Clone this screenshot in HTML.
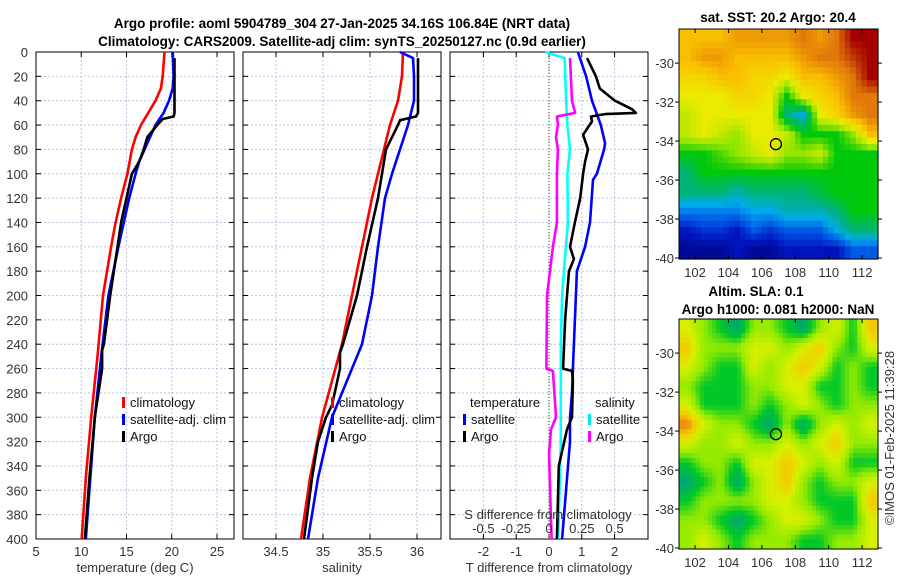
<!DOCTYPE html>
<html><head><meta charset="utf-8"><style>
html,body{margin:0;padding:0;background:#fff;}
svg{display:block;font-family:"Liberation Sans","DejaVu Sans",sans-serif;}
.tk{font-size:13px;fill:#333;}
.tt{font-size:13.5px;font-weight:bold;fill:#000;}
.lg{font-size:13px;fill:#111;}
</style></head><body>
<svg id="c" width="900" height="580" viewBox="0 0 900 580"></svg>
<script>
// ---- data ----
const tDepthClim=[0,20,30,40,50,60,70,80,100,120,140,160,200,250,300,350,400];
const tClim=[19.2,19.0,18.8,18.2,17.4,16.6,16.0,15.6,15.1,14.4,13.8,13.3,12.4,11.8,11.1,10.5,10.05];
const tDepthSat=[0,20,30,40,50,60,70,80,90,100,120,140,160,200,250,300,350,400];
const tSat=[20.1,20.2,20.1,19.7,19.1,18.2,17.6,17.0,16.4,16.0,15.3,14.7,14.1,13.0,12.2,11.5,11.0,10.5];
const tDepthArgo=[5,50,53,55,60,70,80,90,100,120,140,160,200,240,245,260,300,350,400];
const tArgo=[20.3,20.3,20.2,19.0,18.4,17.3,16.9,16.4,15.6,15.0,14.4,14.0,13.2,12.5,12.3,12.3,11.5,10.9,10.4];
const sDepthClim=[0,20,40,60,80,100,120,160,200,240,300,350,400];
const sClim=[35.851,35.84,35.798,35.713,35.649,35.585,35.521,35.415,35.309,35.202,34.99,34.862,34.766];
const sDepthSat=[0,5,20,40,60,80,100,120,160,200,240,300,350,400];
const sSat=[35.819,35.957,35.968,35.968,35.904,35.819,35.734,35.66,35.585,35.521,35.415,35.096,34.947,34.84];
const sDepthArgo=[5,50,53,56,60,70,80,100,120,160,200,240,247,260,290,300,320,350,400];
const sArgo=[36.011,36.011,35.989,35.819,35.798,35.734,35.67,35.628,35.585,35.468,35.362,35.213,35.181,35.181,35.096,35.032,34.947,34.883,34.798];
const dDepthTSat=[0,20,40,60,75,80,100,105,140,160,180,200,260,280,300,320,400];
const dTSat=[0.88,1.13,1.31,1.58,1.71,1.68,1.46,1.34,1.25,1.1,0.85,0.82,0.73,0.7,0.64,0.64,0.4];
const dDepthTArgo=[5,20,30,40,47,50,51,53,57,68,80,90,100,120,140,160,170,180,220,240,260,262,270,300,310,340,400];
const dTArgo=[1.16,1.43,1.55,2.01,2.53,2.65,1.71,1.28,1.31,1.04,1.19,1.1,1.04,0.95,0.79,0.64,0.76,0.61,0.49,0.46,0.43,0.70,0.73,0.70,0.55,0.3,0.24];
const dDepthSSat=[0,5,40,60,80,100,140,180,200,240,300,320,400];
const dSSat=[-0.03,0.12,0.13,0.14,0.16,0.14,0.144,0.114,0.1,0.09,0.09,0.09,0.07];
const dDepthSArgo=[5,40,50,53,60,70,80,100,140,160,200,260,262,300,310,330,400];
const dSArgo=[0.16,0.175,0.2,0.06,0.068,0.053,0.068,0.06,0.06,0.03,-0.015,-0.02,0.03,0.053,0.015,0.0,0.02];
const depthTicks=[0,20,40,60,80,100,120,140,160,180,200,220,240,260,280,300,320,340,360,380,400];
const tTicks=[5,10,15,20,25];
const sTicks=[34.5,35,35.5,36];
const dTTicks=[-2,-1,0,1,2];
const dSTicks=[-0.5,-0.25,0,0.25,0.5];
const dSTickLabels=["-0.5","-0.25","0","0.25","0.5"];
const lonTicks=[102,104,106,108,110,112];
const latTicks=[-30,-32,-34,-36,-38,-40];
const argoLon=106.84, argoLat=-34.16;
const sstGrid=[
[8,8,8,8.5,8.5,8.5,8.5,9,8.5,9,10,10],
[8,8.5,8.5,8,8,8,8,8.5,9,9,9.5,10],
[7.5,7.5,8,8,7.5,7.5,7,8,8,8.5,9,10],
[7,7,7,7.5,7.5,7,5,7,7.5,8,9,9],
[6.5,7,7,7,7,7,4,3,7,7.5,8.5,9],
[6.5,7,6.5,6,7,7,6.5,5,5,5,6,8],
[5,5,5.5,6,6.5,7,6,6,6.5,5,5,5],
[4,5,5,5,5,5,5,5,5,5,5,5],
[4,4,4,3.5,4,4,4,4,4.5,5,5,5],
[2.5,2.5,2.5,2.5,3,3,3.5,3.5,3.5,4,5,5],
[1,1.5,1.5,1,2,1.5,2,2,2,3,4,4],
[0.5,0.5,0.5,1,0.5,0.5,1,1,1,1,2,2]];
const slaGrid=[
[3,2,1,0,2,2,1,0,2,3,1,4],
[4,2,2,2,3,3,2,3,4,2,1,3],
[3,2,1,1,3,2,3,4,3,1,2,1],
[2,1,1,1,2,2,3,3,1,1,2,1],
[3,1,1,1,2,1,2,3,2,1,2,2],
[5,3,2,2,1,0,2,0,2,3,2,3],
[3,2,2,3,2,2,3,2,3,4,2,2],
[1,2,2,1,3,3,4,3,2,3,1,1],
[0,1,2,0,2,3,4,2,1,2,2,3],
[1,2,2,2,2,3,3,2,1,1,1,4],
[2,2,1,0,1,2,3,3,2,1,1,3],
[2,3,2,1,2,2,2,1,1,2,2,3]];

// ---- helpers ----
const svg=document.getElementById('c');
const NS='http://www.w3.org/2000/svg';
function mk(tag,attrs,parent){const e=document.createElementNS(NS,tag);for(const k in attrs)e.setAttribute(k,attrs[k]);(parent||svg).appendChild(e);return e;}
function txt(s,x,y,cls,anchor,parent){const e=mk('text',{x:x,y:y,class:cls,'text-anchor':anchor||'middle'},parent);e.textContent=s;return e;}
const Y0=52,Y1=539;
const yD=d=>Y0+(d/400)*(Y1-Y0);
const xT=t=>36+(t-5)*9.05;
const xS=s=>243+(s-34.149)*94;
const xDT=v=>549+v*32.8;
const xDS=v=>549+v*4*32.8;

function panel(name,x0,x1,xt,ticks,labels,xlabel,showY){
  const g=mk('g',{});
  
  
  depthTicks.forEach(d=>{ if(d>0&&d<400){mk('line',{x1:x0,x2:x1,y1:yD(d),y2:yD(d),stroke:'#b8c4e0','stroke-width':1,'stroke-dasharray':'2,2'},g);}
    mk('line',{x1:x0,x2:x0+5,y1:yD(d),y2:yD(d),stroke:'#000'},g);mk('line',{x1:x1-5,x2:x1,y1:yD(d),y2:yD(d),stroke:'#000'},g);
    if(showY){const t=txt(String(d),28,yD(d)+5,'tk','end',g);}
  });
  ticks.forEach((v,i)=>{const x=xt(v);
    mk('line',{x1:x,x2:x,y1:Y0,y2:Y1,stroke:'#b8c4e0','stroke-dasharray':'2,2'},g);
    mk('line',{x1:x,x2:x,y1:Y1,y2:Y1-5,stroke:'#000'},g);mk('line',{x1:x,x2:x,y1:Y0,y2:Y0+5,stroke:'#000'},g);
    if(labels){const t=txt(labels[i],x,556,'tk','middle',g);}
  });
  mk('rect',{x:x0,y:Y0,width:x1-x0,height:Y1-Y0,fill:'none',stroke:'#000','stroke-width':1},g);
  if(xlabel){const t=txt(xlabel,(x0+x1)/2,572,'tk','middle',g);}
  return g;
}
function line(depths,vals,xf,color,name,w){
  const pts=depths.map((d,i)=>xf(vals[i]).toFixed(1)+','+yD(d).toFixed(1)).join(' ');
  const p=mk('polyline',{points:pts,fill:'none',stroke:color,'stroke-width':w||2.6,'stroke-linejoin':'round'});
  
  
}
function legendEntry(x,y,color,label,name){
  const g=mk('g',{});
  
  
  mk('rect',{x:x,y:y-10,width:3,height:11,fill:color},g);
  txt(label,x+8,y,'lg','start',g);
}

// titles
const t1=txt('Argo profile: aoml 5904789_304 27-Jan-2025 34.16S 106.84E (NRT data)',342,28,'tt');

const t2=txt('Climatology: CARS2009. Satellite-adj clim: synTS_20250127.nc (0.9d earlier)',342,46,'tt');


// panel 1
panel('temperature-panel',36,234,xT,tTicks,tTicks.map(String),'temperature (deg C)',true);
line(tDepthClim,tClim,xT,'#ff0000','temp-climatology-line');
line(tDepthSat,tSat,xT,'#0000ff','temp-satellite-line');
line(tDepthArgo,tArgo,xT,'#000000','temp-argo-line');
legendEntry(122,407,'#ff0000','climatology','legend-entry-climatology');
legendEntry(122,424,'#0000ff','satellite-adj. clim','legend-entry-satellite');
legendEntry(122,441,'#000000','Argo','legend-entry-argo');

// panel 2
panel('salinity-panel',243,441,xS,sTicks,sTicks.map(String),'salinity',false);
line(sDepthClim,sClim,xS,'#ff0000','sal-climatology-line');
line(sDepthSat,sSat,xS,'#0000ff','sal-satellite-line');
line(sDepthArgo,sArgo,xS,'#000000','sal-argo-line');
legendEntry(331,407,'#ff0000','climatology','legend-entry-climatology');
legendEntry(331,424,'#0000ff','satellite-adj. clim','legend-entry-satellite');
legendEntry(331,441,'#000000','Argo','legend-entry-argo');

// panel 3
panel('difference-panel',450,648,xDT,dTTicks,dTTicks.map(String),'T difference from climatology',false);
const z=mk('line',{x1:549,x2:549,y1:Y0,y2:Y1,stroke:'#556b2f','stroke-dasharray':'1,2','stroke-width':1.2});

line(dDepthSSat,dSSat,xDS,'#00ffff','sdiff-satellite-line');
line(dDepthSArgo,dSArgo,xDS,'#ff00ff','sdiff-argo-line');
line(dDepthTSat,dTSat,xDT,'#0000ff','tdiff-satellite-line');
line(dDepthTArgo,dTArgo,xDT,'#000000','tdiff-argo-line');
const lt=txt('temperature',470,407,'lg','start');
legendEntry(463,424,'#0000ff','satellite','legend-entry-t-satellite');
legendEntry(463,441,'#000000','Argo','legend-entry-t-argo');
const ls=txt('salinity',595,407,'lg','start');
legendEntry(588,424,'#00e8e8','satellite','legend-entry-s-satellite');
legendEntry(588,441,'#ff00ff','Argo','legend-entry-s-argo');
const st=txt('S difference from climatology',548,519,'tk','middle');
dSTicks.forEach((v,i)=>{const t=txt(dSTickLabels[i],xDS(v),533,'tk','middle');});

// ---- maps ----
const sstStops=[[0,[0,0,110]],[1,[0,20,190]],[2,[0,90,230]],[3,[0,170,235]],[4,[0,180,120]],[5,[0,200,10]],[6,[150,230,0]],[7,[235,235,0]],[8,[250,190,0]],[9,[225,120,10]],[10,[165,0,0]]];
const slaStops=[[0,[0,165,120]],[1,[0,200,40]],[2,[150,235,0]],[3,[215,240,0]],[4,[245,200,0]],[5,[230,130,20]]];
function cmap(stops,v){for(let i=0;i<stops.length-1;i++){const a=stops[i],b=stops[i+1];if(v<=b[0]){const f=(v-a[0])/(b[0]-a[0]);return 'rgb('+a[1].map((c,k)=>Math.round(c+(b[1][k]-c)*Math.max(0,f))).join(',')+')';}}return 'rgb('+stops[stops.length-1][1].join(',')+')';}
function sample(grid,fx,fy){const R=grid.length,C=grid[0].length;const x=Math.min(C-1,Math.max(0,fx*C-0.5)),y=Math.min(R-1,Math.max(0,fy*R-0.5));const x0=Math.floor(x),y0=Math.floor(y),x1=Math.min(C-1,x0+1),y1=Math.min(R-1,y0+1),dx=x-x0,dy=y-y0;return grid[y0][x0]*(1-dx)*(1-dy)+grid[y0][x1]*dx*(1-dy)+grid[y1][x0]*(1-dx)*dy+grid[y1][x1]*dx*dy;}
function map(name,left,top,right,bottom,grid,stops,n){
  const g=mk('g',{});
  
  
  const lonL=101.04,lonR=112.95,latT=-28.25,latB=-40.05;
  const lx=lon=>left+(lon-lonL)/(lonR-lonL)*(right-left);
  const ly=lat=>top+(latT-lat)/(latT-latB)*(bottom-top);
  const cw=(right-left)/n,ch=(bottom-top)/n;
  for(let r=0;r<n;r++)for(let c=0;c<n;c++){
    const v=sample(grid,(c+0.5)/n,(r+0.5)/n);
    mk('rect',{x:(left+c*cw).toFixed(2),y:(top+r*ch).toFixed(2),width:(cw+0.6).toFixed(2),height:(ch+0.6).toFixed(2),fill:cmap(stops,v)},g);
  }
  mk('rect',{x:left,y:top,width:right-left,height:bottom-top,fill:'none',stroke:'#000'},g);
  lonTicks.forEach(l=>{const x=lx(l);mk('line',{x1:x,x2:x,y1:bottom,y2:bottom-4,stroke:'#000'},g);mk('line',{x1:x,x2:x,y1:top,y2:top+4,stroke:'#000'},g);
    const t=txt(String(l),x,bottom+18,'tk','middle',g);});
  latTicks.forEach(l=>{const y=ly(l);mk('line',{x1:right,x2:right+4,y1:y,y2:y,stroke:'#000'},g);mk('line',{x1:left-4,x2:left,y1:y,y2:y,stroke:'#000'},g);
    const t=txt(String(l),left-5,y+5,'tk','end',g);});
  const m=mk('circle',{cx:lx(argoLon),cy:ly(argoLat),r:5.5,fill:'none',stroke:'#000','stroke-width':1.3},g);
  
  
}
map('sst-map',679,29,878,259,sstGrid,sstStops,36);
map('sla-map',679,319,878,549,slaGrid,slaStops,48);
const mt=txt('sat. SST: 20.2 Argo: 20.4',778,22,'tt');
const m2=txt('Altim. SLA: 0.1',756,296,'tt');
const m3=txt('Argo h1000: 0.081 h2000: NaN',778,314,'tt');
const cp=txt('©IMOS 01-Feb-2025 11:39:28',0,0,'tk','middle');
cp.setAttribute('transform','translate(894,438) rotate(-90)');


</script>
</body></html>
